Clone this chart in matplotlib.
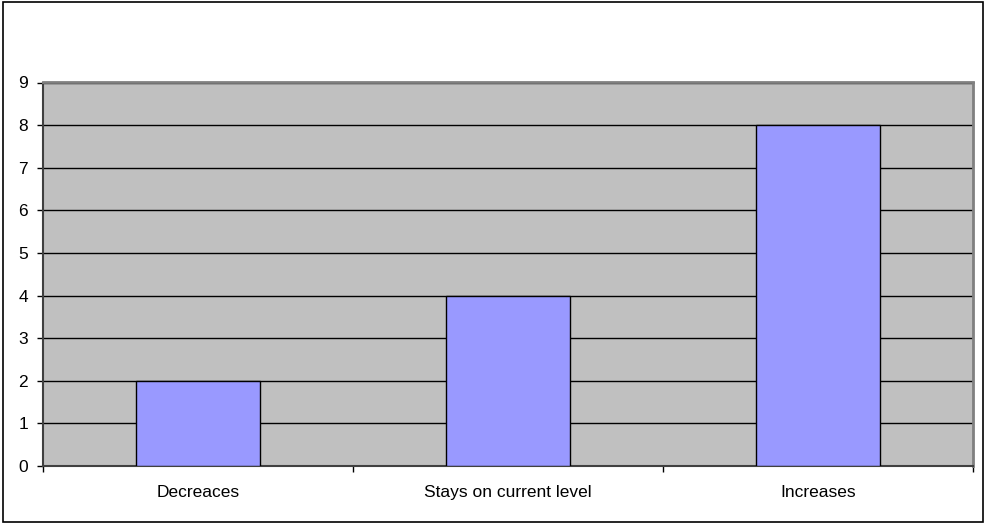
import matplotlib
matplotlib.use("Agg")
import matplotlib.pyplot as plt
from matplotlib.patches import Rectangle

categories = ["Decreaces", "Stays on current level", "Increases"]
values = [2, 4, 8]
yticks = list(range(0, 10))

plt.rcParams['font.family'] = ['Liberation Sans', 'DejaVu Sans']

fig = plt.figure(figsize=(9.85, 5.23), dpi=100)
ax = fig.add_axes([43/985, 1-466/523, (973-43)/985, (466-82.5)/523])
ax.set_facecolor("#C0C0C0")

x = list(range(len(categories)))
ax.bar(x, values, width=0.4, color="#9999FF", edgecolor="black", linewidth=1, zorder=3)

ax.set_xlim(-0.5, len(categories) - 0.5)
ax.set_ylim(0, 9)
ax.set_yticks(yticks)
ax.set_yticklabels([str(t) for t in yticks], fontsize=12.5)
ax.yaxis.grid(True, color="black", linewidth=1)
ax.set_axisbelow(True)

ax.set_xticks(x)
ax.set_xticklabels(categories, fontsize=12.5)
ax.set_xticks([i + 0.5 for i in range(-1, len(categories))], minor=True)
ax.tick_params(axis='x', which='major', length=0, pad=13.5)
ax.tick_params(axis='x', which='minor', length=4.3, width=1, color="black", direction="out")
ax.tick_params(axis='y', length=4.3, width=1, color="black", pad=6.5)

for s in ["top", "right"]:
    ax.spines[s].set_color("#808080")
    ax.spines[s].set_linewidth(2)
for s in ["left", "bottom"]:
    ax.spines[s].set_color("#404040")
    ax.spines[s].set_linewidth(1.5)

fig.patches.append(Rectangle((3/985, 1/523), 980/985, 520/523, transform=fig.transFigure,
                             fill=False, edgecolor="black", linewidth=1.2))

fig.savefig("out.png", dpi=100)
